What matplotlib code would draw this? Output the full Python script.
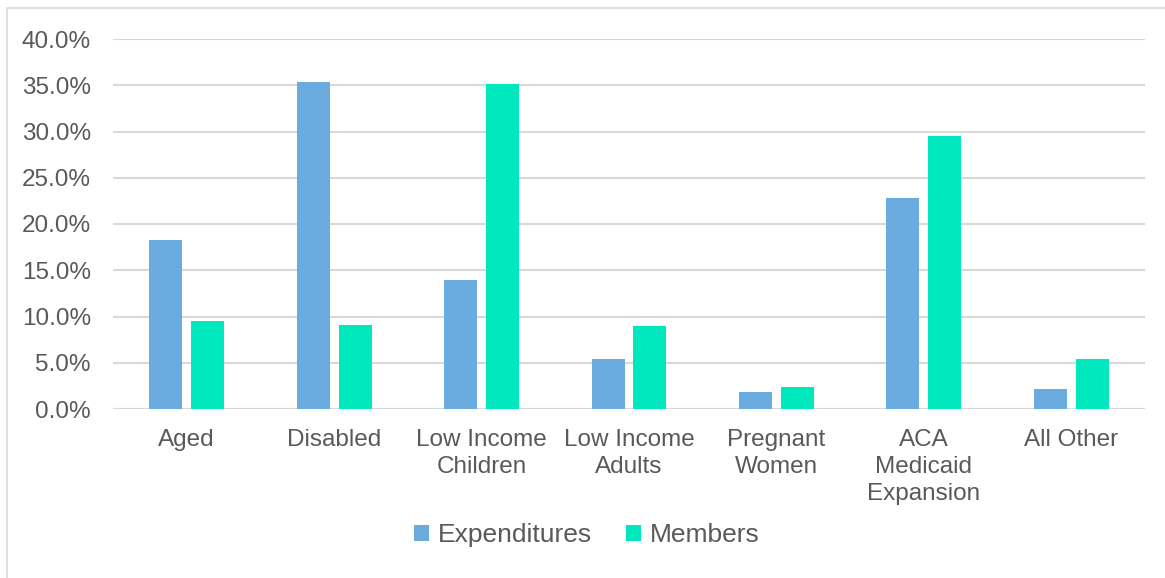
import matplotlib
matplotlib.use("Agg")
import matplotlib.pyplot as plt
import numpy as np
from matplotlib.patches import Rectangle
from matplotlib.ticker import FuncFormatter

categories = ["Aged", "Disabled", "Low Income\nChildren", "Low Income\nAdults",
              "Pregnant\nWomen", "ACA\nMedicaid\nExpansion", "All Other"]
expenditures = [18.3, 35.4, 13.9, 5.4, 1.8, 22.8, 2.2]
members = [9.5, 9.1, 35.1, 9.0, 2.4, 29.5, 5.4]
yticks = [0, 5, 10, 15, 20, 25, 30, 35, 40]

plt.rcParams['font.family'] = ['Liberation Sans', 'DejaVu Sans']
text_color = "#595959"

W, H = 1165, 578
fig = plt.figure(figsize=(W / 100, H / 100), dpi=100)
ax = fig.add_axes([113 / W, 1 - 409 / H, (1145 - 113) / W, (409 - 39) / H])

x = np.arange(len(categories))
bw = 0.224
off = 0.142
ax.bar(x - off, expenditures, bw, color="#6AABE0", label="Expenditures", zorder=3)
ax.bar(x + off, members, bw, color="#00E8BE", label="Members", zorder=3)

ax.set_xlim(-0.5, len(categories) - 0.5)
ax.set_ylim(0, 40)
ax.set_yticks(yticks)
ax.yaxis.set_major_formatter(FuncFormatter(lambda v, p: f"{v:.1f}%"))
ax.grid(axis="y", color="#D9D9D9", linewidth=1.5, zorder=0)
ax.set_xticks(x)
ax.set_xticklabels(categories, fontsize=17.5, color=text_color, linespacing=1.28)
ax.tick_params(axis="y", labelsize=17.5, labelcolor=text_color, length=0, pad=16)
ax.tick_params(axis="x", length=0, pad=14.5)
for s in ax.spines.values():
    s.set_visible(False)
ax.axhline(0, color="#D9D9D9", linewidth=1.5, zorder=1)

leg = fig.legend(loc="center", bbox_to_anchor=(587 / W, 1 - 535 / H), ncol=2,
                 frameon=False, fontsize=19, handlelength=0.55, handleheight=0.55,
                 handletextpad=0.35, columnspacing=1.29)
for t in leg.get_texts():
    t.set_color(text_color)

fig.patches.append(Rectangle((7 / W, -0.1), 1.2, 1 - 8 / H + 0.1, transform=fig.transFigure,
                             fill=False, edgecolor="#D9D9D9", linewidth=1.2))

fig.savefig("out.png", dpi=100)
